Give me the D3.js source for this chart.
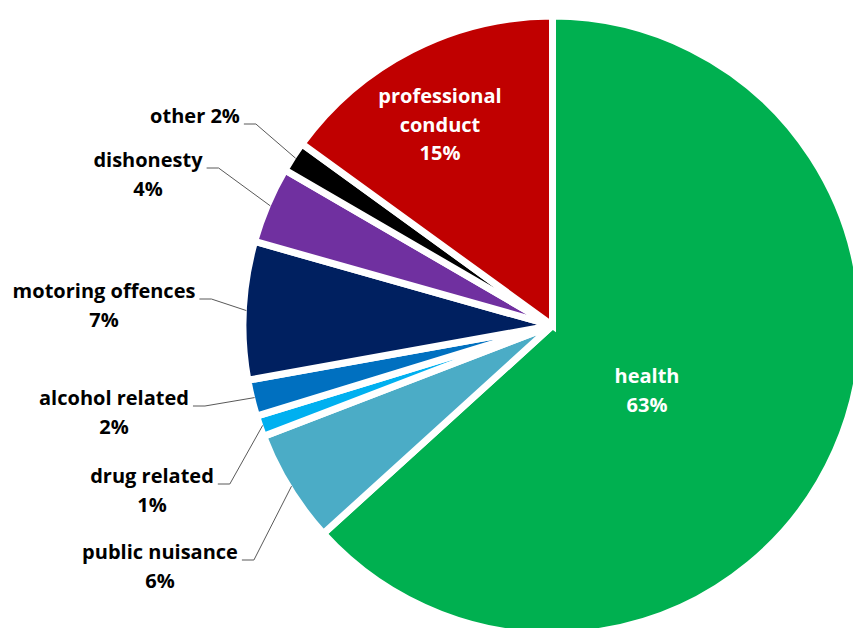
<!DOCTYPE html>
<html>
<head>
<meta charset="utf-8">
<title>Cases by category</title>
<script src="https://cdn.jsdelivr.net/npm/d3@7"></script>
<style>
body { margin: 0; background: #fff; }
svg { display: block; }
text { font-family: "Open Sans", "Noto Sans", sans-serif; font-weight: bold; }
</style>
</head>
<body>
<svg id="chart"></svg>
<script>
// categories clockwise from 12 o'clock, values in percent
var categories = ["health", "public nuisance", "drug related", "alcohol related",
                  "motoring offences", "dishonesty", "other", "professional conduct"];
var values = [63.2, 5.9, 1.1, 1.9, 7.2, 4.0, 1.6, 15.0];
var colors = ["#00B050", "#4BACC6", "#00B0F0", "#0070C0",
              "#002060", "#7030A0", "#000000", "#C00000"];
// how each label is split into lines (pct goes after the last word or on its own line)
var labelLines = [["health"], ["public nuisance"], ["drug related"], ["alcohol related"],
                  ["motoring offences"], ["dishonesty"], ["other"], ["professional", "conduct"]];
var pctSameLine = [false, false, false, false, false, false, true, false];
var inside = [true, false, false, false, false, false, false, true];

// label block placement: [centre x, first baseline y] (hand-placed like the original)
var labelAt = [[647, 383], [160, 559], [152, 483], [114, 405],
               [104, 298], [148, 167], [195, 123], [440, 103]];

var width = 853, height = 628;
var cx = 552.5, cy = 325.5, radius = 309.5;
var lineH = 28.5;

var svg = d3.select("#chart")
  .attr("width", width)
  .attr("height", height);

var data = categories.map(function(c, i) {
  return { name: c, value: values[i], color: colors[i], i: i };
});

var pie = d3.pie()
  .sort(null)
  .value(function(d) { return d.value; });

var arc = d3.arc()
  .innerRadius(0)
  .outerRadius(radius);

var arcs = pie(data);

var g = svg.append("g")
  .attr("transform", "translate(" + cx + "," + cy + ")");

g.selectAll("path.slice")
  .data(arcs)
  .enter().append("path")
  .attr("class", "slice")
  .attr("d", arc)
  .attr("fill", function(d) { return d.data.color; })
  .attr("stroke", "#fff")
  .attr("stroke-width", 7)
  .attr("stroke-linejoin", "miter");

var labels = svg.append("g");

arcs.forEach(function(a) {
  var i = a.data.i;
  var pct = Math.round(a.data.value) + "%";
  var lines = labelLines[i].slice();
  if (pctSameLine[i]) lines[lines.length - 1] += " " + pct;
  else lines.push(pct);

  var t = labels.append("text")
    .attr("text-anchor", "middle")
    .attr("font-size", 20)
    .attr("fill", inside[i] ? "#fff" : "#000");

  lines.forEach(function(l, k) {
    t.append("tspan")
      .attr("x", labelAt[i][0])
      .attr("y", labelAt[i][1] + k * lineH)
      .text(l);
  });

  if (!inside[i]) {
    // leader line from the right end of the first line to the slice edge
    var w = t.select("tspan").node().getComputedTextLength();
    var x0 = labelAt[i][0] + w / 2 + 4;
    var y0 = labelAt[i][1] + 1;
    var mid = (a.startAngle + a.endAngle) / 2;
    var ex = cx + Math.sin(mid) * (radius - 3);
    var ey = cy - Math.cos(mid) * (radius - 3);
    labels.append("path")
      .attr("d", d3.line()([[x0, y0], [x0 + 12, y0], [ex, ey]]))
      .attr("fill", "none")
      .attr("stroke", "#595959")
      .attr("stroke-width", 1);
  }
});
</script>
</body>
</html>
